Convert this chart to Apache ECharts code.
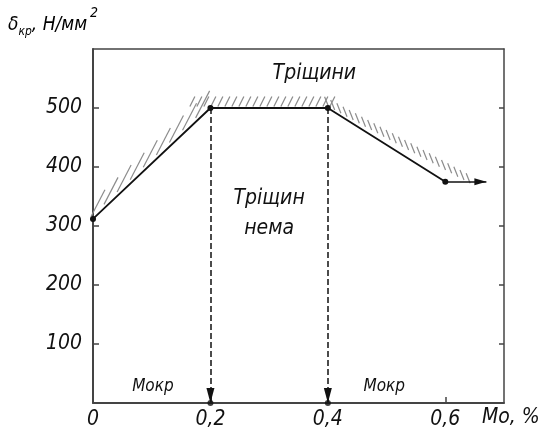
<!DOCTYPE html>
<html><head><meta charset="utf-8">
<script src="https://cdn.jsdelivr.net/npm/echarts@6/dist/echarts.min.js"></script>
<style>html,body{margin:0;padding:0;background:#fff}#c{width:540px;height:436px}</style>
</head><body><div id="c"></div>
<script>
// ---- data ----
var curveX = [0, 0.2, 0.4, 0.6];
var curveY = [312, 500, 500, 375];
var dropX = [0.2, 0.4];
var dropTop = 500;
var outArrowFrom = [0.6, 375];
var outArrowTo = [0.67, 375];
var xLabelValues = [0, 0.2, 0.4, 0.6];
var xTickValues = [0.2, 0.4, 0.6];
var yLabelValues = [100, 200, 300, 400, 500];
var hatchBands = [
  [0, 312, 0.2, 500],
  [0.165, 500, 0.405, 500],
  [0.4, 500, 0.645, 368]
];
var noteText = ['Тріщини', 'Тріщин', 'нема', 'Мокр', 'Мокр'];
var noteX = [0.377, 0.30, 0.30, 0.102, 0.496];
var noteY = [559, 346, 296, 27, 27];

// ---- styles ----
var FONT = "'DejaVu Sans Condensed','Liberation Sans Narrow',sans-serif";
var INK = '#111';
var AX = '#444';
var hatchCfg = [
  {spacing: 18, dx: 14, dy: -27, off: 3},
  {spacing: 7, dx: 5, dy: -10, off: 1.5},
  {spacing: 7, dx: -4, dy: -10, off: 1.5}
];

var curve = curveX.map(function (x, i) { return [x, curveY[i]]; });
var drops = dropX.map(function (x) { return [x, 0]; });
var notes = noteText.map(function (t, i) {
  return {name: t, value: [noteX[i], noteY[i]],
    label: {fontSize: t === 'Мокр' ? 17 : 21}};
});

var chart = echarts.init(document.getElementById('c'), null, {renderer: 'canvas'});

function hatchRender(params, api) {
  var p1 = api.coord([api.value(0), api.value(1)]);
  var p2 = api.coord([api.value(2), api.value(3)]);
  var c = hatchCfg[params.dataIndex];
  var vx = p2[0] - p1[0], vy = p2[1] - p1[1];
  var L = Math.sqrt(vx * vx + vy * vy);
  var ux = vx / L, uy = vy / L;
  var nx = uy, ny = -ux;
  if (ny > 0) { nx = -nx; ny = -ny; }
  var children = [];
  for (var s = 0; s <= L + 0.01; s += c.spacing) {
    var bx = p1[0] + ux * s + nx * c.off;
    var by = p1[1] + uy * s + ny * c.off;
    children.push({type: 'line', shape: {x1: bx, y1: by, x2: bx + c.dx, y2: by + c.dy},
      style: {stroke: '#8c8c8c', lineWidth: 1.2}});
  }
  return {type: 'group', children: children};
}

var commaFmt = function (v) { return String(+v.toFixed(2)).replace('.', ','); };

var arrowEnd = function (coord, w, h) {
  return {coord: coord, symbol: 'triangle', symbolSize: [w, h], symbolOffset: [0, h / 2]};
};

chart.setOption({
  animation: false,
  backgroundColor: '#fff',
  grid: {left: 93, right: 36, top: 49, bottom: 33, outerBoundsMode: 'none', containLabel: false},
  xAxis: [{
    type: 'value', position: 'bottom', min: 0, max: 0.7, interval: 0.1,
    axisLine: {show: true, onZero: false, lineStyle: {color: AX, width: 1.8}},
    axisTick: {show: true, inside: true, length: 6, customValues: xTickValues, lineStyle: {color: AX, width: 1.5}},
    axisLabel: {show: true, customValues: xLabelValues, formatter: commaFmt, margin: 6,
      fontFamily: FONT, fontStyle: 'italic', fontSize: 21, color: '#111'},
    splitLine: {show: false}
  }, {
    type: 'value', position: 'top', min: 0, max: 0.7,
    axisLine: {show: true, onZero: false, lineStyle: {color: AX, width: 1.5}},
    axisTick: {show: false}, axisLabel: {show: false}, splitLine: {show: false}
  }],
  yAxis: [{
    type: 'value', position: 'left', min: 0, max: 600, interval: 100,
    axisLine: {show: true, onZero: false, lineStyle: {color: AX, width: 2}},
    axisTick: {show: true, inside: true, length: 6, customValues: yLabelValues, lineStyle: {color: AX, width: 1.5}},
    axisLabel: {show: true, customValues: yLabelValues, margin: 11,
      fontFamily: FONT, fontStyle: 'italic', fontSize: 21, color: '#111'},
    splitLine: {show: false}
  }, {
    type: 'value', position: 'right', min: 0, max: 600, interval: 100,
    axisLine: {show: true, onZero: false, lineStyle: {color: AX, width: 1.5}},
    axisTick: {show: true, inside: true, length: 5, customValues: yLabelValues, lineStyle: {color: AX, width: 1.5}},
    axisLabel: {show: false}, splitLine: {show: false}
  }],
  series: [{
    type: 'custom', name: 'hatch', renderItem: hatchRender, data: hatchBands,
    encode: {x: [0, 2], y: [1, 3]}, silent: true, z: 1, clip: false
  }, {
    type: 'line', name: 'curve', data: curve, z: 5,
    lineStyle: {color: INK, width: 1.8},
    symbol: 'circle', symbolSize: 6, showAllSymbol: true,
    itemStyle: {color: INK},
    markLine: {
      silent: true, animation: false,
      symbol: ['none', 'triangle'],
      label: {show: false},
      emphasis: {disabled: true},
      lineStyle: {color: INK, width: 1.5, type: [6, 3]},
      data: dropX.map(function (x) {
        return [{coord: [x, dropTop], symbol: 'none'}, arrowEnd([x, 0], 8, 15)];
      }).concat([[{coord: outArrowFrom, symbol: 'none', lineStyle: {type: 'solid', width: 1.5}},
                  arrowEnd(outArrowTo, 7, 12)]])
    }
  }, {
    type: 'scatter', name: 'drops', data: drops, symbol: 'circle', symbolSize: 6,
    itemStyle: {color: INK}, z: 6, clip: false
  }, {
    type: 'scatter', name: 'notes', data: notes, symbolSize: 0, z: 7, silent: true,
    itemStyle: {opacity: 1},
    label: {show: true, position: 'inside', formatter: '{b}', color: '#111', opacity: 1,
      textBorderWidth: 0, fontFamily: FONT, fontStyle: 'italic'}
  }],
  graphic: [{
    type: 'text', left: 8, top: 6,
    style: {
      text: '{a|δ}{s|кр}{a|, Н/мм}{p|2}',
      rich: {
        a: {fontFamily: FONT, fontStyle: 'italic', fontSize: 19, color: '#111', lineHeight: 32, verticalAlign: 'middle', padding: [6, 0, 0, 0]},
        s: {fontFamily: FONT, fontStyle: 'italic', fontSize: 12, color: '#111', lineHeight: 32, verticalAlign: 'bottom'},
        p: {fontFamily: FONT, fontStyle: 'italic', fontSize: 14, color: '#111', lineHeight: 32, verticalAlign: 'top', padding: [0, 0, 0, 3]}
      }
    }
  }, {
    type: 'text', left: 482, top: 407,
    style: {text: 'Mo, %', fontFamily: FONT, fontStyle: 'italic', fontSize: 21, fill: '#111'}
  }]
});
</script></body></html>
